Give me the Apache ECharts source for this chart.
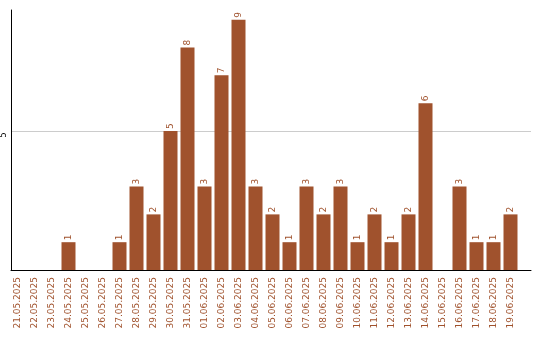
<!DOCTYPE html>
<html><head><meta charset="utf-8">
<script src="https://cdn.jsdelivr.net/npm/echarts@6/dist/echarts.min.js"></script>
<style>html,body{margin:0;padding:0;background:#fff}#c{width:540px;height:340px}</style>
</head><body><div id="c"></div>
<script>
const categories = ["21.05.2025","22.05.2025","23.05.2025","24.05.2025","25.05.2025","26.05.2025","27.05.2025","28.05.2025","29.05.2025","30.05.2025","31.05.2025","01.06.2025","02.06.2025","03.06.2025","04.06.2025","05.06.2025","06.06.2025","07.06.2025","08.06.2025","09.06.2025","10.06.2025","11.06.2025","12.06.2025","13.06.2025","14.06.2025","15.06.2025","16.06.2025","17.06.2025","18.06.2025","19.06.2025"];
const values = [0,0,0,1,0,0,1,3,2,5,8,3,7,9,3,2,1,3,2,3,1,2,1,2,6,0,3,1,1,2];
const yTicks = [5];
const yMax = 9.35;
const chart = echarts.init(document.getElementById('c'), null, {renderer:'canvas'});
chart.setOption({
  animation:false,
  grid:[
    {left:9,right:21,top:10,bottom:70,containLabel:false},
    {left:10,right:9,top:10,bottom:70,containLabel:false}
  ],
  xAxis:[
    {type:'category',data:categories,gridIndex:0,
     axisLine:{show:false},axisTick:{show:false},
     axisLabel:{rotate:90,interval:0,color:'#a0522d',fontFamily:'DejaVu Sans',fontSize:9,margin:7}},
    {type:'value',gridIndex:1,min:0,max:1,
     axisLine:{show:true,lineStyle:{color:'#000',width:1}},axisTick:{show:false},
     axisLabel:{show:false},splitLine:{show:false}}
  ],
  yAxis:[
    {type:'value',gridIndex:0,min:0,max:yMax,show:false,splitLine:{show:false}},
    {type:'value',gridIndex:1,min:0,max:yMax,interval:5,
     axisLine:{show:true,lineStyle:{color:'#000',width:1}},axisTick:{show:false},
     splitLine:{show:true,showMinLine:false,showMaxLine:false,lineStyle:{color:'#cccccc',width:1}},
     axisLabel:{rotate:90,color:'#000',fontFamily:'DejaVu Sans',fontSize:8,margin:3,padding:[0,8,0,0],
       formatter:v=>yTicks.includes(v)?String(v):''}}
  ],
  series:[{type:'bar',xAxisIndex:0,yAxisIndex:0,data:values.map(v=>v===0?null:v),barWidth:14,
    itemStyle:{color:'#a0522d'},
    label:{show:true,position:'top',rotate:90,align:'left',verticalAlign:'middle',distance:2,
      color:'#a0522d',fontFamily:'DejaVu Sans',fontSize:9}}]
});
</script></body></html>
